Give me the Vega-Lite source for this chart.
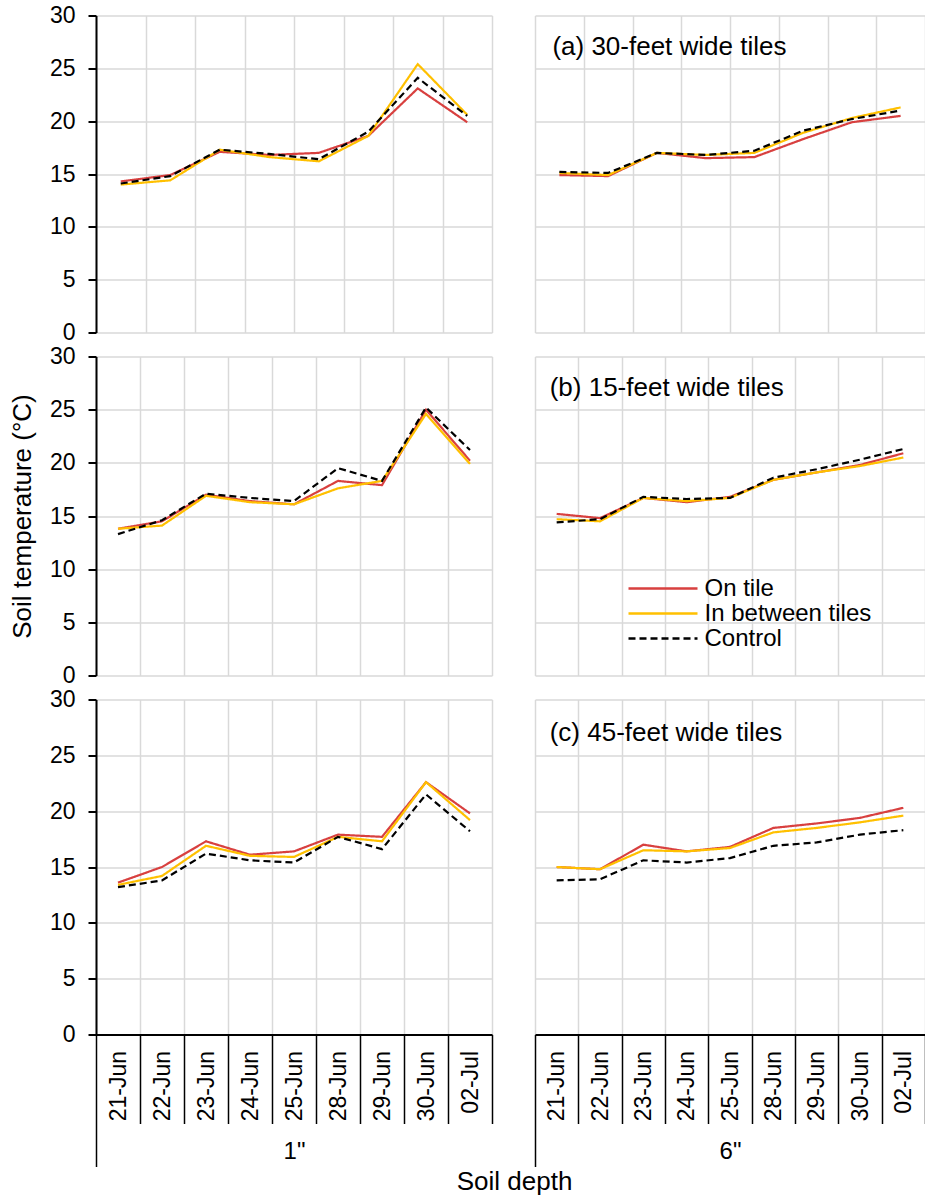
{
  "$schema": "https://vega.github.io/schema/vega-lite/v6.json",
  "background": "white",
  "padding": {"left": 9, "top": 4.5, "right": 0, "bottom": 0},
  "bounds": "flush",
  "columns": 2,
  "spacing": {"row": 24, "column": 43},
  "title": {"text": "Soil depth", "orient": "bottom", "anchor": "middle", "frame": "bounds", "dx": 47, "fontSize": 26, "fontWeight": "normal", "color": "black", "offset": 2},
  "datasets": {
    "temps": [
      {"tiles": "a", "depth": "1in", "date": "21-Jun", "On tile": 14.3, "In between tiles": 14.0, "Control": 14.1},
      {"tiles": "a", "depth": "1in", "date": "22-Jun", "On tile": 14.9, "In between tiles": 14.4, "Control": 14.8},
      {"tiles": "a", "depth": "1in", "date": "23-Jun", "On tile": 17.1, "In between tiles": 17.3, "Control": 17.3},
      {"tiles": "a", "depth": "1in", "date": "24-Jun", "On tile": 16.8, "In between tiles": 16.6, "Control": 16.9},
      {"tiles": "a", "depth": "1in", "date": "25-Jun", "On tile": 17.0, "In between tiles": 16.2, "Control": 16.4},
      {"tiles": "a", "depth": "1in", "date": "28-Jun", "On tile": 18.6, "In between tiles": 18.6, "Control": 19.0},
      {"tiles": "a", "depth": "1in", "date": "30-Jun", "On tile": 23.1, "In between tiles": 25.4, "Control": 24.1},
      {"tiles": "a", "depth": "1in", "date": "02-Jul", "On tile": 19.9, "In between tiles": 20.6, "Control": 20.5},
      {"tiles": "a", "depth": "6in", "date": "21-Jun", "On tile": 14.9, "In between tiles": 15.1, "Control": 15.2},
      {"tiles": "a", "depth": "6in", "date": "22-Jun", "On tile": 14.8, "In between tiles": 14.9, "Control": 15.1},
      {"tiles": "a", "depth": "6in", "date": "23-Jun", "On tile": 17.0, "In between tiles": 17.0, "Control": 17.0},
      {"tiles": "a", "depth": "6in", "date": "24-Jun", "On tile": 16.5, "In between tiles": 16.8, "Control": 16.8},
      {"tiles": "a", "depth": "6in", "date": "25-Jun", "On tile": 16.6, "In between tiles": 17.0, "Control": 17.2},
      {"tiles": "a", "depth": "6in", "date": "28-Jun", "On tile": 18.3, "In between tiles": 18.9, "Control": 19.1},
      {"tiles": "a", "depth": "6in", "date": "30-Jun", "On tile": 19.9, "In between tiles": 20.3, "Control": 20.2},
      {"tiles": "a", "depth": "6in", "date": "02-Jul", "On tile": 20.5, "In between tiles": 21.3, "Control": 21.0},
      {"tiles": "b", "depth": "1in", "date": "21-Jun", "On tile": 13.8, "In between tiles": 13.8, "Control": 13.3},
      {"tiles": "b", "depth": "1in", "date": "22-Jun", "On tile": 14.5, "In between tiles": 14.1, "Control": 14.6},
      {"tiles": "b", "depth": "1in", "date": "23-Jun", "On tile": 17.0, "In between tiles": 16.9, "Control": 17.1},
      {"tiles": "b", "depth": "1in", "date": "24-Jun", "On tile": 16.4, "In between tiles": 16.3, "Control": 16.7},
      {"tiles": "b", "depth": "1in", "date": "25-Jun", "On tile": 16.1, "In between tiles": 16.1, "Control": 16.4},
      {"tiles": "b", "depth": "1in", "date": "28-Jun", "On tile": 18.3, "In between tiles": 17.6, "Control": 19.5},
      {"tiles": "b", "depth": "1in", "date": "29-Jun", "On tile": 17.9, "In between tiles": 18.3, "Control": 18.3},
      {"tiles": "b", "depth": "1in", "date": "30-Jun", "On tile": 25.0, "In between tiles": 24.6, "Control": 25.2},
      {"tiles": "b", "depth": "1in", "date": "02-Jul", "On tile": 20.2, "In between tiles": 19.9, "Control": 21.2},
      {"tiles": "b", "depth": "6in", "date": "21-Jun", "On tile": 15.2, "In between tiles": 14.7, "Control": 14.4},
      {"tiles": "b", "depth": "6in", "date": "22-Jun", "On tile": 14.8, "In between tiles": 14.5, "Control": 14.7},
      {"tiles": "b", "depth": "6in", "date": "23-Jun", "On tile": 16.7, "In between tiles": 16.7, "Control": 16.8},
      {"tiles": "b", "depth": "6in", "date": "24-Jun", "On tile": 16.3, "In between tiles": 16.4, "Control": 16.6},
      {"tiles": "b", "depth": "6in", "date": "25-Jun", "On tile": 16.8, "In between tiles": 16.7, "Control": 16.7},
      {"tiles": "b", "depth": "6in", "date": "28-Jun", "On tile": 18.4, "In between tiles": 18.4, "Control": 18.6},
      {"tiles": "b", "depth": "6in", "date": "29-Jun", "On tile": 19.1, "In between tiles": 19.1, "Control": 19.4},
      {"tiles": "b", "depth": "6in", "date": "30-Jun", "On tile": 19.8, "In between tiles": 19.7, "Control": 20.3},
      {"tiles": "b", "depth": "6in", "date": "02-Jul", "On tile": 20.9, "In between tiles": 20.5, "Control": 21.3},
      {"tiles": "c", "depth": "1in", "date": "21-Jun", "On tile": 13.6, "In between tiles": 13.4, "Control": 13.2},
      {"tiles": "c", "depth": "1in", "date": "22-Jun", "On tile": 15.0, "In between tiles": 14.2, "Control": 13.8},
      {"tiles": "c", "depth": "1in", "date": "23-Jun", "On tile": 17.3, "In between tiles": 16.9, "Control": 16.2},
      {"tiles": "c", "depth": "1in", "date": "24-Jun", "On tile": 16.1, "In between tiles": 16.0, "Control": 15.6},
      {"tiles": "c", "depth": "1in", "date": "25-Jun", "On tile": 16.4, "In between tiles": 15.9, "Control": 15.4},
      {"tiles": "c", "depth": "1in", "date": "28-Jun", "On tile": 17.9, "In between tiles": 17.7, "Control": 17.7},
      {"tiles": "c", "depth": "1in", "date": "29-Jun", "On tile": 17.7, "In between tiles": 17.3, "Control": 16.6},
      {"tiles": "c", "depth": "1in", "date": "30-Jun", "On tile": 22.6, "In between tiles": 22.6, "Control": 21.5},
      {"tiles": "c", "depth": "1in", "date": "02-Jul", "On tile": 19.8, "In between tiles": 19.2, "Control": 18.2},
      {"tiles": "c", "depth": "6in", "date": "21-Jun", "On tile": 15.0, "In between tiles": 15.0, "Control": 13.8},
      {"tiles": "c", "depth": "6in", "date": "22-Jun", "On tile": 14.8, "In between tiles": 14.8, "Control": 13.9},
      {"tiles": "c", "depth": "6in", "date": "23-Jun", "On tile": 17.0, "In between tiles": 16.5, "Control": 15.6},
      {"tiles": "c", "depth": "6in", "date": "24-Jun", "On tile": 16.4, "In between tiles": 16.4, "Control": 15.4},
      {"tiles": "c", "depth": "6in", "date": "25-Jun", "On tile": 16.8, "In between tiles": 16.7, "Control": 15.8},
      {"tiles": "c", "depth": "6in", "date": "28-Jun", "On tile": 18.5, "In between tiles": 18.1, "Control": 16.9},
      {"tiles": "c", "depth": "6in", "date": "29-Jun", "On tile": 18.9, "In between tiles": 18.5, "Control": 17.2},
      {"tiles": "c", "depth": "6in", "date": "30-Jun", "On tile": 19.4, "In between tiles": 19.0, "Control": 17.9},
      {"tiles": "c", "depth": "6in", "date": "02-Jul", "On tile": 20.3, "In between tiles": 19.6, "Control": 18.3}
    ]
  },
  "resolve": {
    "scale": {"x": "independent", "y": "independent", "color": "shared", "strokeDash": "shared"},
    "axis": {"x": "independent", "y": "independent"}
  },
  "concat": [
    {
      "width": 396, "height": 317,
      "data": {"name": "temps"},
      "transform": [{"filter": "datum.tiles === 'a' && datum.depth === '1in'"}, {"fold": ["On tile", "In between tiles", "Control"], "as": ["series", "temp"]}],
      "mark": {"type": "line", "strokeWidth": 2.2},
      "encoding": {
        "x": {"field": "date", "type": "ordinal", "bandPosition": 0.5, "scale": {"type": "band", "domain": ["21-Jun", "22-Jun", "23-Jun", "24-Jun", "25-Jun", "28-Jun", "30-Jun", "02-Jul"], "paddingInner": 0, "paddingOuter": 0},
          "axis": {"tickBand": "extent", "grid": true, "labels": false, "ticks": false, "domain": false, "title": null}},
        "y": {"field": "temp", "type": "quantitative", "scale": {"domain": [0, 30], "nice": false},
          "axis": {"values": [0, 5, 10, 15, 20, 25, 30], "grid": true, "title": null, "domainColor": "black", "domainWidth": 2, "tickColor": "black", "tickWidth": 2, "tickSize": 8, "labelFontSize": 23, "labelColor": "black", "labelPadding": 13}},
        "color": {"field": "series", "type": "nominal", "scale": {"domain": ["On tile", "In between tiles", "Control"], "range": ["#d8403f", "#ffc000", "#000000"]},
          "legend": {"title": null, "orient": "none", "legendX": 555, "legendY": 561, "symbolType": "M-3.45,0H3.45", "symbolSize": 400, "symbolStrokeWidth": 2.5, "labelFontSize": 24, "labelOffset": 29.5, "labelLimit": 300, "rowPadding": 1, "labelColor": "black"}},
        "strokeDash": {"field": "series", "type": "nominal", "scale": {"domain": ["On tile", "In between tiles", "Control"], "range": [[1, 0], [1, 0], [7, 4]]},
          "legend": {"title": null, "orient": "none", "legendX": 555, "legendY": 561, "symbolType": "M-3.45,0H3.45", "symbolSize": 400, "symbolStrokeWidth": 2.5, "labelFontSize": 24, "labelOffset": 29.5, "labelLimit": 300, "rowPadding": 1, "labelColor": "black"}}
      }
    },
    {
      "width": 390, "height": 317,
      "layer": [
        {
          "data": {"name": "temps"},
          "transform": [{"filter": "datum.tiles === 'a' && datum.depth === '6in'"}, {"fold": ["On tile", "In between tiles", "Control"], "as": ["series", "temp"]}],
          "mark": {"type": "line", "strokeWidth": 2.2},
          "encoding": {
            "x": {"field": "date", "type": "ordinal", "bandPosition": 0.5, "scale": {"type": "band", "domain": ["21-Jun", "22-Jun", "23-Jun", "24-Jun", "25-Jun", "28-Jun", "30-Jun", "02-Jul"], "paddingInner": 0, "paddingOuter": 0},
              "axis": {"tickBand": "extent", "grid": true, "labels": false, "ticks": false, "domain": false, "title": null}},
            "y": {"field": "temp", "type": "quantitative", "scale": {"domain": [0, 30], "nice": false},
              "axis": {"values": [0, 5, 10, 15, 20, 25, 30], "grid": true, "labels": false, "ticks": false, "domain": false, "title": null}},
            "color": {"field": "series", "type": "nominal", "scale": {"domain": ["On tile", "In between tiles", "Control"], "range": ["#d8403f", "#ffc000", "#000000"]},
              "legend": {"title": null, "orient": "none", "legendX": 555, "legendY": 561, "symbolType": "M-3.45,0H3.45", "symbolSize": 400, "symbolStrokeWidth": 2.5, "labelFontSize": 24, "labelOffset": 29.5, "labelLimit": 300, "rowPadding": 1, "labelColor": "black"}},
            "strokeDash": {"field": "series", "type": "nominal", "scale": {"domain": ["On tile", "In between tiles", "Control"], "range": [[1, 0], [1, 0], [7, 4]]},
              "legend": {"title": null, "orient": "none", "legendX": 555, "legendY": 561, "symbolType": "M-3.45,0H3.45", "symbolSize": 400, "symbolStrokeWidth": 2.5, "labelFontSize": 24, "labelOffset": 29.5, "labelLimit": 300, "rowPadding": 1, "labelColor": "black"}}
          }
        },
        {
          "data": {"values": [{"label": "(a) 30-feet wide tiles"}]},
          "mark": {"type": "text", "align": "left", "baseline": "middle", "fontSize": 26, "dx": -7, "color": "black"},
          "encoding": {"x": {"datum": "21-Jun", "type": "ordinal"}, "y": {"datum": 27, "type": "quantitative"}, "text": {"field": "label"}}
        }
      ]
    },
    {
      "width": 396, "height": 319,
      "data": {"name": "temps"},
      "transform": [{"filter": "datum.tiles === 'b' && datum.depth === '1in'"}, {"fold": ["On tile", "In between tiles", "Control"], "as": ["series", "temp"]}],
      "mark": {"type": "line", "strokeWidth": 2.2},
      "encoding": {
        "x": {"field": "date", "type": "ordinal", "bandPosition": 0.5, "scale": {"type": "band", "domain": ["21-Jun", "22-Jun", "23-Jun", "24-Jun", "25-Jun", "28-Jun", "29-Jun", "30-Jun", "02-Jul"], "paddingInner": 0, "paddingOuter": 0},
          "axis": {"tickBand": "extent", "grid": true, "labels": false, "ticks": false, "domain": false, "title": null}},
        "y": {"field": "temp", "type": "quantitative", "scale": {"domain": [0, 30], "nice": false},
          "axis": {"values": [0, 5, 10, 15, 20, 25, 30], "grid": true, "title": "Soil temperature (°C)", "titleFontSize": 26, "titleFontWeight": "normal", "titleColor": "black", "titlePadding": 14, "domainColor": "black", "domainWidth": 2, "tickColor": "black", "tickWidth": 2, "tickSize": 8, "labelFontSize": 23, "labelColor": "black", "labelPadding": 13}},
        "color": {"field": "series", "type": "nominal", "scale": {"domain": ["On tile", "In between tiles", "Control"], "range": ["#d8403f", "#ffc000", "#000000"]},
          "legend": {"title": null, "orient": "none", "legendX": 555, "legendY": 561, "symbolType": "M-3.45,0H3.45", "symbolSize": 400, "symbolStrokeWidth": 2.5, "labelFontSize": 24, "labelOffset": 29.5, "labelLimit": 300, "rowPadding": 1, "labelColor": "black"}},
        "strokeDash": {"field": "series", "type": "nominal", "scale": {"domain": ["On tile", "In between tiles", "Control"], "range": [[1, 0], [1, 0], [7, 4]]},
          "legend": {"title": null, "orient": "none", "legendX": 555, "legendY": 561, "symbolType": "M-3.45,0H3.45", "symbolSize": 400, "symbolStrokeWidth": 2.5, "labelFontSize": 24, "labelOffset": 29.5, "labelLimit": 300, "rowPadding": 1, "labelColor": "black"}}
      }
    },
    {
      "width": 390, "height": 319,
      "layer": [
        {
          "data": {"name": "temps"},
          "transform": [{"filter": "datum.tiles === 'b' && datum.depth === '6in'"}, {"fold": ["On tile", "In between tiles", "Control"], "as": ["series", "temp"]}],
          "mark": {"type": "line", "strokeWidth": 2.2},
          "encoding": {
            "x": {"field": "date", "type": "ordinal", "bandPosition": 0.5, "scale": {"type": "band", "domain": ["21-Jun", "22-Jun", "23-Jun", "24-Jun", "25-Jun", "28-Jun", "29-Jun", "30-Jun", "02-Jul"], "paddingInner": 0, "paddingOuter": 0},
              "axis": {"tickBand": "extent", "grid": true, "labels": false, "ticks": false, "domain": false, "title": null}},
            "y": {"field": "temp", "type": "quantitative", "scale": {"domain": [0, 30], "nice": false},
              "axis": {"values": [0, 5, 10, 15, 20, 25, 30], "grid": true, "labels": false, "ticks": false, "domain": false, "title": null}},
            "color": {"field": "series", "type": "nominal", "scale": {"domain": ["On tile", "In between tiles", "Control"], "range": ["#d8403f", "#ffc000", "#000000"]},
              "legend": {"title": null, "orient": "none", "legendX": 555, "legendY": 561, "symbolType": "M-3.45,0H3.45", "symbolSize": 400, "symbolStrokeWidth": 2.5, "labelFontSize": 24, "labelOffset": 29.5, "labelLimit": 300, "rowPadding": 1, "labelColor": "black"}},
            "strokeDash": {"field": "series", "type": "nominal", "scale": {"domain": ["On tile", "In between tiles", "Control"], "range": [[1, 0], [1, 0], [7, 4]]},
              "legend": {"title": null, "orient": "none", "legendX": 555, "legendY": 561, "symbolType": "M-3.45,0H3.45", "symbolSize": 400, "symbolStrokeWidth": 2.5, "labelFontSize": 24, "labelOffset": 29.5, "labelLimit": 300, "rowPadding": 1, "labelColor": "black"}}
          }
        },
        {
          "data": {"values": [{"label": "(b) 15-feet wide tiles"}]},
          "mark": {"type": "text", "align": "left", "baseline": "middle", "fontSize": 26, "dx": -7, "color": "black"},
          "encoding": {"x": {"datum": "21-Jun", "type": "ordinal"}, "y": {"datum": 27, "type": "quantitative"}, "text": {"field": "label"}}
        }
      ]
    },
    {
      "width": 396, "height": 335,
      "data": {"name": "temps"},
      "transform": [{"filter": "datum.tiles === 'c' && datum.depth === '1in'"}, {"fold": ["On tile", "In between tiles", "Control"], "as": ["series", "temp"]}],
      "mark": {"type": "line", "strokeWidth": 2.2},
      "encoding": {
        "x": {"field": "date", "type": "ordinal", "bandPosition": 0.5, "scale": {"type": "band", "domain": ["21-Jun", "22-Jun", "23-Jun", "24-Jun", "25-Jun", "28-Jun", "29-Jun", "30-Jun", "02-Jul"], "paddingInner": 0, "paddingOuter": 0},
          "axis": {"tickBand": "extent", "grid": true, "title": "1\"", "titleY": 117, "titleBaseline": "middle", "titleFontSize": 24, "titleFontWeight": "normal", "titleColor": "black",
            "labelAngle": -90, "labelFontSize": 23, "labelColor": "black",
            "labelPadding": -73,
            "tickSize": {"condition": {"test": "!!datum.extra", "value": 132}, "value": 89},
            "tickColor": "black", "tickWidth": 1.5, "domainColor": "black", "domainWidth": 2}},
        "y": {"field": "temp", "type": "quantitative", "scale": {"domain": [0, 30], "nice": false},
          "axis": {"values": [0, 5, 10, 15, 20, 25, 30], "grid": true, "title": null, "domainColor": "black", "domainWidth": 2, "tickColor": "black", "tickWidth": 2, "tickSize": 8, "labelFontSize": 23, "labelColor": "black", "labelPadding": 13}},
        "color": {"field": "series", "type": "nominal", "scale": {"domain": ["On tile", "In between tiles", "Control"], "range": ["#d8403f", "#ffc000", "#000000"]},
          "legend": {"title": null, "orient": "none", "legendX": 555, "legendY": 561, "symbolType": "M-3.45,0H3.45", "symbolSize": 400, "symbolStrokeWidth": 2.5, "labelFontSize": 24, "labelOffset": 29.5, "labelLimit": 300, "rowPadding": 1, "labelColor": "black"}},
        "strokeDash": {"field": "series", "type": "nominal", "scale": {"domain": ["On tile", "In between tiles", "Control"], "range": [[1, 0], [1, 0], [7, 4]]},
          "legend": {"title": null, "orient": "none", "legendX": 555, "legendY": 561, "symbolType": "M-3.45,0H3.45", "symbolSize": 400, "symbolStrokeWidth": 2.5, "labelFontSize": 24, "labelOffset": 29.5, "labelLimit": 300, "rowPadding": 1, "labelColor": "black"}}
      }
    },
    {
      "width": 390, "height": 335,
      "layer": [
        {
          "data": {"name": "temps"},
          "transform": [{"filter": "datum.tiles === 'c' && datum.depth === '6in'"}, {"fold": ["On tile", "In between tiles", "Control"], "as": ["series", "temp"]}],
          "mark": {"type": "line", "strokeWidth": 2.2},
          "encoding": {
            "x": {"field": "date", "type": "ordinal", "bandPosition": 0.5, "scale": {"type": "band", "domain": ["21-Jun", "22-Jun", "23-Jun", "24-Jun", "25-Jun", "28-Jun", "29-Jun", "30-Jun", "02-Jul"], "paddingInner": 0, "paddingOuter": 0},
              "axis": {"tickBand": "extent", "grid": true, "title": "6\"", "titleY": 117, "titleBaseline": "middle", "titleFontSize": 24, "titleFontWeight": "normal", "titleColor": "black",
                "labelAngle": -90, "labelFontSize": 23, "labelColor": "black",
                "labelPadding": -73,
                "tickSize": {"condition": {"test": "!!datum.extra", "value": 132}, "value": 89},
                "tickColor": "black", "tickWidth": 1.5, "domainColor": "black", "domainWidth": 2}},
            "y": {"field": "temp", "type": "quantitative", "scale": {"domain": [0, 30], "nice": false},
              "axis": {"values": [0, 5, 10, 15, 20, 25, 30], "grid": true, "labels": false, "ticks": false, "domain": false, "title": null}},
            "color": {"field": "series", "type": "nominal", "scale": {"domain": ["On tile", "In between tiles", "Control"], "range": ["#d8403f", "#ffc000", "#000000"]},
              "legend": {"title": null, "orient": "none", "legendX": 555, "legendY": 561, "symbolType": "M-3.45,0H3.45", "symbolSize": 400, "symbolStrokeWidth": 2.5, "labelFontSize": 24, "labelOffset": 29.5, "labelLimit": 300, "rowPadding": 1, "labelColor": "black"}},
            "strokeDash": {"field": "series", "type": "nominal", "scale": {"domain": ["On tile", "In between tiles", "Control"], "range": [[1, 0], [1, 0], [7, 4]]},
              "legend": {"title": null, "orient": "none", "legendX": 555, "legendY": 561, "symbolType": "M-3.45,0H3.45", "symbolSize": 400, "symbolStrokeWidth": 2.5, "labelFontSize": 24, "labelOffset": 29.5, "labelLimit": 300, "rowPadding": 1, "labelColor": "black"}}
          }
        },
        {
          "data": {"values": [{"label": "(c) 45-feet wide tiles"}]},
          "mark": {"type": "text", "align": "left", "baseline": "middle", "fontSize": 26, "dx": -7, "color": "black"},
          "encoding": {"x": {"datum": "21-Jun", "type": "ordinal"}, "y": {"datum": 27, "type": "quantitative"}, "text": {"field": "label"}}
        }
      ]
    }
  ],
  "config": {
    "font": "Liberation Sans",
    "view": {"stroke": null},
    "axis": {"gridColor": "#d9d9d9", "gridWidth": 1.5, "labelFont": "Liberation Sans", "titleFont": "Liberation Sans"},
    "legend": {"labelFont": "Liberation Sans"},
    "text": {"font": "Liberation Sans"},
    "title": {"font": "Liberation Sans"}
  }
}
